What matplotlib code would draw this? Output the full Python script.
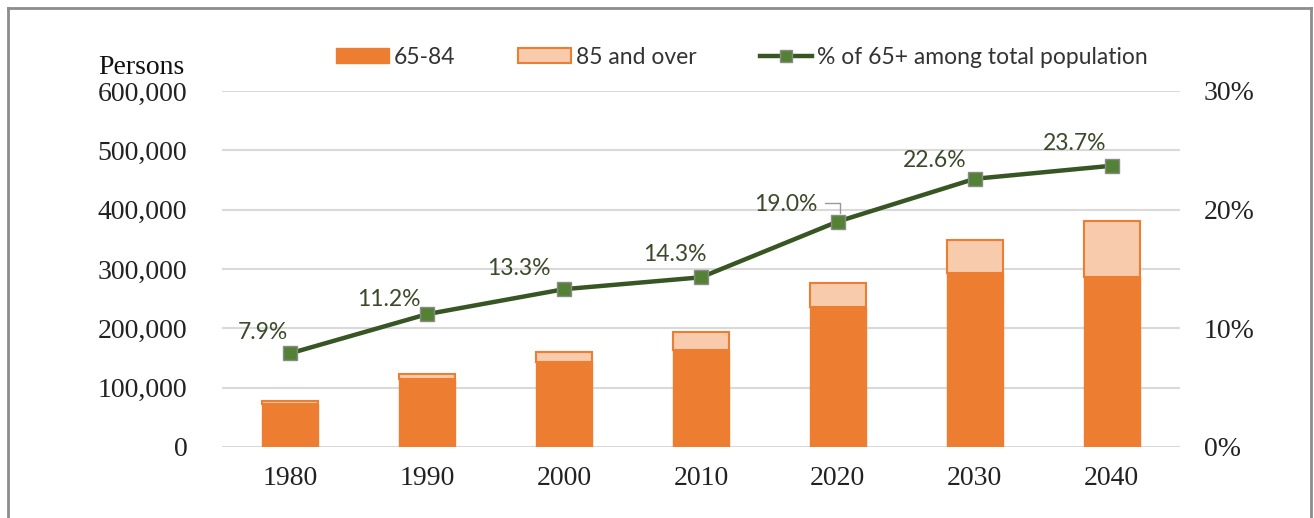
import numpy as np
import matplotlib
matplotlib.use('Agg')
import matplotlib.pyplot as plt
import matplotlib.transforms as mtransforms
from matplotlib.lines import Line2D
from matplotlib.patches import Patch

years = ['1980', '1990', '2000', '2010', '2020', '2030', '2040']
age_65_84 = [72000, 115000, 143000, 164000, 236000, 293000, 287000]
age_85_over = [5000, 8000, 17000, 30000, 41000, 56000, 94000]
pct_65_plus = [7.9, 11.2, 13.3, 14.3, 19.0, 22.6, 23.7]
pct_labels = ['7.9%', '11.2%', '13.3%', '14.3%', '19.0%', '22.6%', '23.7%']

dark_orange = '#ED7D31'
light_orange = '#F8CBAD'
line_green = '#375623'
marker_green = '#548235'
grid_col = '#D9D9D9'
serif = 'Liberation Serif'
sans = 'Lato'

fig = plt.figure(figsize=(13.14, 5.18), dpi=100)
ax = fig.add_axes([222/1314, 1-447/518, (1180-222)/1314, (447-91)/518])
ax2 = ax.twinx()

x = np.arange(len(years))
w = 0.41
ax.bar(x, age_65_84, width=w, color=dark_orange, edgecolor=dark_orange, linewidth=1, zorder=2)
ax.bar(x, age_85_over, width=w, bottom=age_65_84, color=light_orange,
       edgecolor=dark_orange, linewidth=1.5, zorder=2)

ax.set_xlim(-0.5, len(years)-0.5)
ax.set_ylim(0, 600000)
ax.set_yticks(np.arange(0, 600001, 100000))
ax.set_yticklabels(['{:,}'.format(v) for v in range(0, 600001, 100000)],
                   fontfamily=serif, fontsize=20)
ax.set_xticks(x)
ax.set_xticklabels(years, fontfamily=serif, fontsize=20)
ax.tick_params(axis='both', length=0, colors='#222222')
ax.tick_params(axis='y', pad=25)
ax.tick_params(axis='x', pad=14)
ax.grid(axis='y', color=grid_col, linewidth=1.5, zorder=0)
ax.set_axisbelow(True)
for s in ax.spines.values():
    s.set_visible(False)
for s in ax2.spines.values():
    s.set_visible(False)

ax2.plot(x, pct_65_plus, color=line_green, linewidth=3.2, marker='s', markersize=10,
         markerfacecolor=marker_green, markeredgecolor='#8a8a8a', markeredgewidth=1, zorder=5)
ax2.set_ylim(0, 30)
ax2.set_yticks([0, 10, 20, 30])
ax2.set_yticklabels(['0%', '10%', '20%', '30%'], fontfamily=serif, fontsize=20)
ax2.tick_params(axis='y', length=0, pad=17, colors='#222222')

# label offsets in points (label placed up-left of each point)
offsets = [(-19.5, 15), (-28, 10.5), (-32.5, 15), (-18.7, 16.5), (-37.5, 12.5), (-29, 13), (-26.5, 16)]
for i, lab in enumerate(pct_labels):
    ax2.annotate(lab, (x[i], pct_65_plus[i]), xytext=offsets[i], textcoords='offset points',
                 ha='center', va='center', fontsize=16.5, fontfamily=sans, color='#3a4a2a',
                 zorder=6)

# leader line for 19.0%
i = pct_labels.index('19.0%')
lead = mtransforms.offset_copy(ax2.transData, fig=fig, x=1.4, y=5.8, units='points')
ax2.annotate('', xy=(x[i], pct_65_plus[i]), xycoords=lead, xytext=(-10.8, 7.2),
             textcoords='offset points',
             arrowprops=dict(arrowstyle='-', color='#999999', lw=1, shrinkA=0, shrinkB=0,
                             connectionstyle='angle,angleA=0,angleB=90,rad=0'))

handles = [Patch(facecolor=dark_orange, edgecolor=dark_orange),
           Patch(facecolor=light_orange, edgecolor=dark_orange, linewidth=1.5),
           Line2D([0], [0], color=line_green, linewidth=3.2, marker='s', markersize=8,
                  markerfacecolor=marker_green, markeredgecolor='#8a8a8a')]
fig.legend(handles, ['65-84', '85 and over', '% of 65+ among total population'],
           loc='center', bbox_to_anchor=(742/1314, 1-57/518), ncol=3, frameon=False,
           prop={'family': sans, 'size': 16.5}, handlelength=2.3, handleheight=0.6,
           columnspacing=2.75, handletextpad=0.22, labelcolor='#333333')

fig.text(98/1314, 1-67/518, 'Persons', fontfamily=serif, fontsize=20, color='#111111',
         ha='left', va='center')

# outer frame
fig.add_artist(Line2D([8/1314, 8/1314], [0, 1-8/518], color='#8c8c8c', linewidth=2))
fig.add_artist(Line2D([8/1314, 1311/1314], [1-8/518, 1-8/518], color='#8c8c8c', linewidth=2))
fig.add_artist(Line2D([1311/1314, 1311/1314], [0, 1-8/518], color='#8c8c8c', linewidth=2))

fig.savefig('out.png', dpi=100)
